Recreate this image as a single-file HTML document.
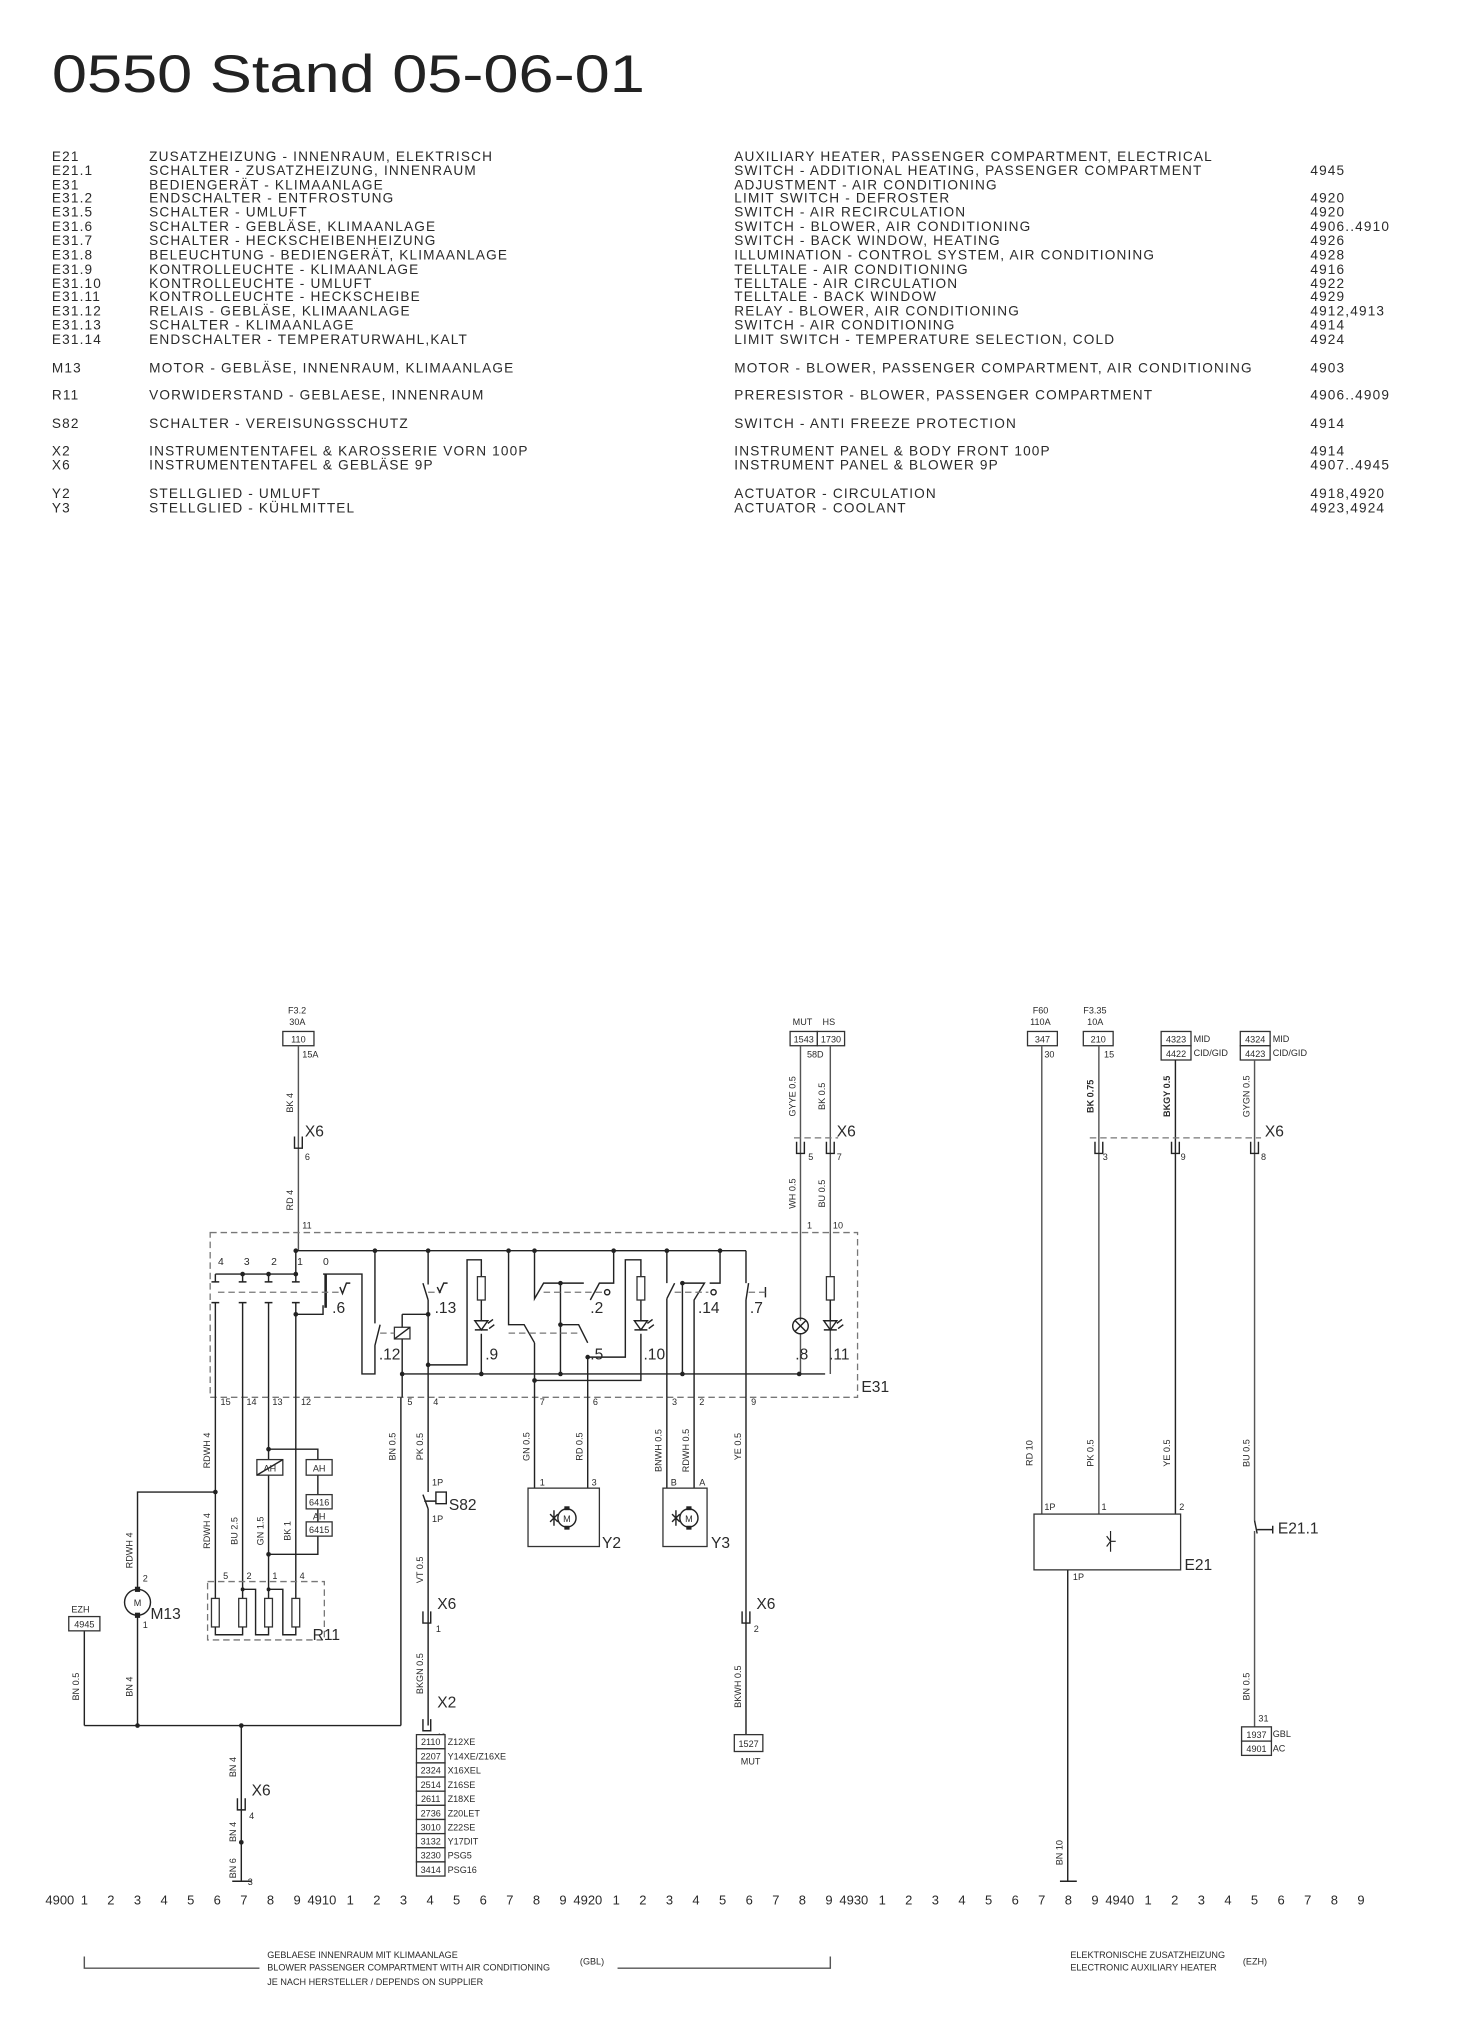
<!DOCTYPE html>
<html><head><meta charset="utf-8"><style>
html,body{margin:0;padding:0;background:#fff;}
svg{display:block}
text{font-family:"Liberation Sans",sans-serif;fill:#2a2a2a;}
.l{font-size:10.5px;letter-spacing:0.9px;}
.s{font-size:7px;}
.m{font-size:12px;}
.w{stroke:#555;stroke-width:1.1;fill:none;}
.k{stroke:#222;stroke-width:1.1;fill:none;}
.d{stroke:#777;stroke-width:1;fill:none;stroke-dasharray:5,3;}
.dot{fill:#222;}
.bx{stroke:#333;stroke-width:1;fill:#fff;}
</style></head><body>
<svg width="1479" height="2024" viewBox="0 0 1140 1560" xmlns="http://www.w3.org/2000/svg">
<text x="40" y="71" font-size="41" textLength="457" lengthAdjust="spacingAndGlyphs" style="fill:#222">0550 Stand 05-06-01</text>

<g class="l">
<text x="40" y="124">E21</text><text x="115" y="124">ZUSATZHEIZUNG - INNENRAUM, ELEKTRISCH</text><text x="566" y="124">AUXILIARY HEATER, PASSENGER COMPARTMENT, ELECTRICAL</text>
<text x="40" y="135">E21.1</text><text x="115" y="135">SCHALTER - ZUSATZHEIZUNG, INNENRAUM</text><text x="566" y="135">SWITCH - ADDITIONAL HEATING, PASSENGER COMPARTMENT</text><text x="1010" y="135">4945</text>
<text x="40" y="146">E31</text><text x="115" y="146">BEDIENGERÄT - KLIMAANLAGE</text><text x="566" y="146">ADJUSTMENT - AIR CONDITIONING</text>
<text x="40" y="156">E31.2</text><text x="115" y="156">ENDSCHALTER - ENTFROSTUNG</text><text x="566" y="156">LIMIT SWITCH - DEFROSTER</text><text x="1010" y="156">4920</text>
<text x="40" y="167">E31.5</text><text x="115" y="167">SCHALTER - UMLUFT</text><text x="566" y="167">SWITCH - AIR RECIRCULATION</text><text x="1010" y="167">4920</text>
<text x="40" y="178">E31.6</text><text x="115" y="178">SCHALTER - GEBLÄSE, KLIMAANLAGE</text><text x="566" y="178">SWITCH - BLOWER, AIR CONDITIONING</text><text x="1010" y="178">4906..4910</text>
<text x="40" y="189">E31.7</text><text x="115" y="189">SCHALTER - HECKSCHEIBENHEIZUNG</text><text x="566" y="189">SWITCH - BACK WINDOW, HEATING</text><text x="1010" y="189">4926</text>
<text x="40" y="200">E31.8</text><text x="115" y="200">BELEUCHTUNG - BEDIENGERÄT, KLIMAANLAGE</text><text x="566" y="200">ILLUMINATION - CONTROL SYSTEM, AIR CONDITIONING</text><text x="1010" y="200">4928</text>
<text x="40" y="211">E31.9</text><text x="115" y="211">KONTROLLEUCHTE - KLIMAANLAGE</text><text x="566" y="211">TELLTALE - AIR CONDITIONING</text><text x="1010" y="211">4916</text>
<text x="40" y="222">E31.10</text><text x="115" y="222">KONTROLLEUCHTE - UMLUFT</text><text x="566" y="222">TELLTALE - AIR CIRCULATION</text><text x="1010" y="222">4922</text>
<text x="40" y="232">E31.11</text><text x="115" y="232">KONTROLLEUCHTE - HECKSCHEIBE</text><text x="566" y="232">TELLTALE - BACK WINDOW</text><text x="1010" y="232">4929</text>
<text x="40" y="243">E31.12</text><text x="115" y="243">RELAIS - GEBLÄSE, KLIMAANLAGE</text><text x="566" y="243">RELAY - BLOWER, AIR CONDITIONING</text><text x="1010" y="243">4912,4913</text>
<text x="40" y="254">E31.13</text><text x="115" y="254">SCHALTER - KLIMAANLAGE</text><text x="566" y="254">SWITCH - AIR CONDITIONING</text><text x="1010" y="254">4914</text>
<text x="40" y="265">E31.14</text><text x="115" y="265">ENDSCHALTER - TEMPERATURWAHL,KALT</text><text x="566" y="265">LIMIT SWITCH - TEMPERATURE SELECTION, COLD</text><text x="1010" y="265">4924</text>
<text x="40" y="287">M13</text><text x="115" y="287">MOTOR - GEBLÄSE, INNENRAUM, KLIMAANLAGE</text><text x="566" y="287">MOTOR - BLOWER, PASSENGER COMPARTMENT, AIR CONDITIONING</text><text x="1010" y="287">4903</text>
<text x="40" y="308">R11</text><text x="115" y="308">VORWIDERSTAND - GEBLAESE, INNENRAUM</text><text x="566" y="308">PRERESISTOR - BLOWER, PASSENGER COMPARTMENT</text><text x="1010" y="308">4906..4909</text>
<text x="40" y="330">S82</text><text x="115" y="330">SCHALTER - VEREISUNGSSCHUTZ</text><text x="566" y="330">SWITCH - ANTI FREEZE PROTECTION</text><text x="1010" y="330">4914</text>
<text x="40" y="351">X2</text><text x="115" y="351">INSTRUMENTENTAFEL &amp; KAROSSERIE VORN 100P</text><text x="566" y="351">INSTRUMENT PANEL &amp; BODY FRONT 100P</text><text x="1010" y="351">4914</text>
<text x="40" y="362">X6</text><text x="115" y="362">INSTRUMENTENTAFEL &amp; GEBLÄSE 9P</text><text x="566" y="362">INSTRUMENT PANEL &amp; BLOWER 9P</text><text x="1010" y="362">4907..4945</text>
<text x="40" y="384">Y2</text><text x="115" y="384">STELLGLIED - UMLUFT</text><text x="566" y="384">ACTUATOR - CIRCULATION</text><text x="1010" y="384">4918,4920</text>
<text x="40" y="395">Y3</text><text x="115" y="395">STELLGLIED - KÜHLMITTEL</text><text x="566" y="395">ACTUATOR - COOLANT</text><text x="1010" y="395">4923,4924</text>
</g>

<!-- ===== Left diagram top ===== -->
<g class="s">
<text x="222" y="781">F3.2</text><text x="223" y="790">30A</text>
<text x="233" y="815">15A</text>
<text x="611" y="790">MUT</text><text x="634" y="790">HS</text>
<text x="622" y="815">58D</text>
<text x="233" y="947">11</text><text x="622" y="947">1</text><text x="642" y="947">10</text>
<text x="235" y="894">6</text><text x="623" y="894">5</text><text x="645" y="894">7</text>
</g>
<rect class="bx" x="218" y="795" width="24" height="11"/><text class="s" x="230" y="803.5" text-anchor="middle">110</text>
<rect class="bx" x="609" y="795" width="21" height="11"/><rect class="bx" x="630" y="795" width="21" height="11"/>
<text class="s" x="619.5" y="803.5" text-anchor="middle">1543</text><text class="s" x="640.5" y="803.5" text-anchor="middle">1730</text>
<path class="w" d="M230 806V964 M617 806V1018 M617 1028V1059 M640 806V984 M640 1002V1059"/>
<g class="s">
<text transform="translate(226,850) rotate(-90)" text-anchor="middle">BK  4</text>
<text transform="translate(226,925) rotate(-90)" text-anchor="middle">RD  4</text>
<text transform="translate(613,845) rotate(-90)" text-anchor="middle">GYYE  0.5</text>
<text transform="translate(636,845) rotate(-90)" text-anchor="middle">BK  0.5</text>
<text transform="translate(613,920) rotate(-90)" text-anchor="middle">WH  0.5</text>
<text transform="translate(636,920) rotate(-90)" text-anchor="middle">BU  0.5</text>
</g>
<!-- X6 connectors -->
<path class="k" d="M227 876v9h6v-9 M614 880v9h6v-9 M637 880v9h6v-9"/>
<path class="d" d="M612 877H646"/>
<text class="m" x="235" y="876">X6</text><text class="m" x="645" y="876">X6</text>

<!-- E31 box -->
<rect class="d" x="162" y="950" width="499" height="127"/>
<text class="m" x="664" y="1073">E31</text>

<!-- E31 internals -->
<path class="k" d="M228 964H575"/>
<g class="dot">
<circle cx="228" cy="964" r="1.8"/><circle cx="289" cy="964" r="1.8"/><circle cx="330" cy="964" r="1.8"/><circle cx="392" cy="964" r="1.8"/><circle cx="412" cy="964" r="1.8"/><circle cx="473" cy="964" r="1.8"/><circle cx="514" cy="964" r="1.8"/><circle cx="555" cy="964" r="1.8"/>
<circle cx="187" cy="982" r="1.8"/><circle cx="207" cy="982" r="1.8"/><circle cx="228" cy="982" r="1.8"/><circle cx="228" cy="1013" r="1.8"/>
<circle cx="330" cy="1013" r="1.8"/><circle cx="330" cy="1052" r="1.8"/><circle cx="310" cy="1059" r="1.8"/><circle cx="371" cy="1059" r="1.8"/><circle cx="432" cy="1059" r="1.8"/><circle cx="526" cy="1059" r="1.8"/><circle cx="616" cy="1059" r="1.8"/>
<circle cx="432" cy="989" r="1.8"/><circle cx="432" cy="1021" r="1.8"/><circle cx="453" cy="1046" r="1.8"/><circle cx="412" cy="1064" r="1.8"/><circle cx="526" cy="989" r="1.8"/>
</g>
<g class="s" style="font-size:8px">
<text x="168" y="975">4</text><text x="188" y="975">3</text><text x="209" y="975">2</text><text x="229" y="975">1</text><text x="249" y="975">0</text>
</g>
<path class="k" d="M228 964V982 M166 982H228 M166 982v6 M187 982v6 M207 982v6 M228 982v6 M163 988h6 M184 988h6 M204 988h6 M225 988h6
M163 1004h6 M184 1004h6 M204 1004h6 M225 1004h6 M166 1004V1077 M187 1004V1077 M207 1004V1077 M228 1004V1077
M228 1013H249V1006 M249 982H279V1059H289V1037 M289 964V1020 M289 1037L293 1021"/>
<path class="k" d="M251 982V1008" style="stroke-width:2"/>
<path class="d" d="M168 996H262"/>
<path class="k" d="M262 992l2 5l3-8h3"/>
<text class="m" x="256" y="1012">.6</text>
<!-- relay .12 -->
<rect class="bx" x="304" y="1023" width="12" height="9"/>
<path class="k" d="M304 1032L316 1023"/>
<path class="d" d="M293 1027.5H304"/>
<path class="k" d="M310 1013V1023 M310 1032V1077 M310 1013H330 M310 1059H636"/>
<text class="m" x="292" y="1048">.12</text>
<!-- .13 -->
<path class="k" d="M330 964V990 M330 1002V1077 M330 1002L326 989 M330 1052H360V971H371V984 M371 1002V1018 M371 1028V1059"/>
<path class="d" d="M330 996H340"/><path class="k" d="M337 992l2 4l3-7h3"/>
<rect class="bx" x="368" y="984" width="6" height="18"/>
<path class="k" d="M366 1018h10l-5 7z M366 1025h10" style="fill:none"/>
<path class="k" d="M376 1020l4-3 M377 1024l4-3"/>
<text class="m" x="335" y="1012">.13</text><text class="m" x="374" y="1048">.9</text>
<!-- .5 / .2 -->
<path class="k" d="M392 964V1021H404L412 1035 M412 964V1001L419 989H450 M432 989V1059 M432 1021H446L453 1035 M453 1046V1077 M412 1035V1077
M473 964V989H462L455 1002 M453 1046H482V971H494V984 M494 1002V1018 M494 1028V1064H412"/>
<path class="d" d="M392 1027.5H448 M419 996H466"/>
<circle cx="468" cy="996" r="2" class="k"/>
<rect class="bx" x="491" y="984" width="6" height="18"/>
<path class="k" d="M489 1018h10l-5 7z M489 1025h10 M499 1020l4-3 M500 1024l4-3"/>
<text class="m" x="455" y="1012">.2</text><text class="m" x="455" y="1048">.5</text><text class="m" x="496" y="1048">.10</text>
<!-- .14 .7 -->
<path class="k" d="M514 964V989 M514 1001L520 989 M514 1001V1077 M526 989V1059 M526 989H543L535 1002V1077 M555 964V989H547
M575 964V989 M575 1002L577 989 M575 1002V1077 M590 992v8"/>
<path class="d" d="M520 996H546 M577 996H590"/>
<circle cx="550" cy="996" r="2" class="k"/>
<text class="m" x="538" y="1012">.14</text><text class="m" x="578" y="1012">.7</text>
<!-- .8 lamp / .11 -->
<circle cx="617" cy="1022" r="6" class="k"/>
<path class="k" d="M613 1018l8 8 M621 1018l-8 8"/>
<rect class="bx" x="637" y="984" width="6" height="18"/>
<path class="k" d="M640 1002V1018 M635 1018h10l-5 7z M635 1025h10 M645 1020l4-3 M646 1024l4-3"/>
<text class="m" x="613" y="1048">.8</text><text class="m" x="639" y="1048">.11</text>

<g class="s">
<text x="170" y="1083">15</text><text x="190" y="1083">14</text><text x="210" y="1083">13</text><text x="232" y="1083">12</text>
<text x="314" y="1083">5</text><text x="334" y="1083">4</text><text x="416" y="1083">7</text><text x="457" y="1083">6</text>
<text x="518" y="1083">3</text><text x="539" y="1083">2</text><text x="579" y="1083">9</text>
</g>

<!-- ===== Lower left ===== -->
<path class="k" d="M166 1077V1232 M187 1077V1232 M207 1077V1125 M207 1137V1232 M228 1077V1232
M207 1117H245V1125 M245 1137V1152 M245 1163V1173 M245 1184V1198H207
M166 1150H106V1225 M106 1245V1330 M65 1257V1330 M65 1330H309 M309 1077V1330 M186 1330V1450 M179 1450H194"/>
<g class="dot"><circle cx="166" cy="1150" r="1.8"/><circle cx="207" cy="1117" r="1.8"/><circle cx="207" cy="1198" r="1.8"/><circle cx="106" cy="1330" r="1.8"/><circle cx="186" cy="1330" r="1.8"/><circle cx="186" cy="1420" r="1.8"/><circle cx="187" cy="1225" r="1.5"/><circle cx="207" cy="1225" r="1.5"/></g>
<rect class="bx" x="198" y="1125" width="20" height="12"/><path class="k" d="M198 1137L218 1125"/>
<text class="s" x="208" y="1134" text-anchor="middle">AH</text>
<rect class="bx" x="236" y="1125" width="20" height="12"/><text class="s" x="246" y="1134" text-anchor="middle">AH</text>
<rect class="bx" x="236" y="1152" width="20" height="11"/><text class="s" x="246" y="1160.5" text-anchor="middle">6416</text>
<text class="s" x="246" y="1171" text-anchor="middle">AH</text>
<rect class="bx" x="236" y="1173" width="20" height="11"/><text class="s" x="246" y="1181.5" text-anchor="middle">6415</text>
<g class="s">
<text transform="translate(162,1118) rotate(-90)" text-anchor="middle">RDWH  4</text>
<text transform="translate(162,1180) rotate(-90)" text-anchor="middle">RDWH  4</text>
<text transform="translate(183,1180) rotate(-90)" text-anchor="middle">BU  2.5</text>
<text transform="translate(203,1180) rotate(-90)" text-anchor="middle">GN  1.5</text>
<text transform="translate(224,1180) rotate(-90)" text-anchor="middle">BK  1</text>
<text transform="translate(102,1195) rotate(-90)" text-anchor="middle">RDWH  4</text>
<text transform="translate(61,1300) rotate(-90)" text-anchor="middle">BN  0.5</text>
<text transform="translate(102,1300) rotate(-90)" text-anchor="middle">BN  4</text>
<text transform="translate(305,1115) rotate(-90)" text-anchor="middle">BN  0.5</text>
<text transform="translate(182,1362) rotate(-90)" text-anchor="middle">BN  4</text>
<text transform="translate(182,1412) rotate(-90)" text-anchor="middle">BN  4</text>
<text transform="translate(182,1440) rotate(-90)" text-anchor="middle">BN  6</text>
<text x="172" y="1217">5</text><text x="190" y="1217">2</text><text x="210" y="1217">1</text><text x="231" y="1217">4</text>
<text x="110" y="1219">2</text><text x="110" y="1255">1</text>
<text x="55" y="1243">EZH</text>
<text x="192" y="1402">4</text><text x="191" y="1453">3</text>
</g>
<rect class="d" x="160" y="1219" width="90" height="45"/>
<rect class="bx" x="163" y="1232" width="6" height="22"/><rect class="bx" x="184" y="1232" width="6" height="22"/><rect class="bx" x="204" y="1232" width="6" height="22"/><rect class="bx" x="225" y="1232" width="6" height="22"/>
<path class="k" d="M166 1254V1260H187V1254 M187 1225H197V1260H207V1254 M207 1225H218V1260H228V1254"/>
<text class="m" x="241" y="1264">R11</text>
<circle cx="106" cy="1235" r="10" class="k"/><rect x="104" y="1223" width="4" height="4" class="dot"/><rect x="104" y="1243" width="4" height="4" class="dot"/>
<text class="s" x="106" y="1238" text-anchor="middle">M</text>
<text class="m" x="116" y="1248">M13</text>
<rect class="bx" x="53" y="1246" width="24" height="11"/><text class="s" x="65" y="1254.5" text-anchor="middle">4945</text>
<path class="k" d="M183 1386v9h6v-9"/><text class="m" x="194" y="1384">X6</text>

<!-- S82 / X2 wire -->
<path class="k" d="M330 1077V1150 M330 1163L326 1152 M330 1163V1330 M326 1242v9h6v-9 M326 1325v9h6v-9 M327 1157h9 M336 1150h8v9h-8z"/>
<g class="s">
<text x="333" y="1145">1P</text><text x="333" y="1173">1P</text><text x="336" y="1258">1</text><text x="336" y="1341">40</text>
<text transform="translate(326,1115) rotate(-90)" text-anchor="middle">PK  0.5</text>
<text transform="translate(326,1210) rotate(-90)" text-anchor="middle">VT  0.5</text>
<text transform="translate(326,1290) rotate(-90)" text-anchor="middle">BKGN  0.5</text>
</g>
<text class="m" x="346" y="1164">S82</text><text class="m" x="337" y="1240">X6</text><text class="m" x="337" y="1316">X2</text>
<g class="s">
<rect class="bx" x="321" y="1337" width="22" height="10.9"/><text x="332" y="1345" text-anchor="middle">2110</text><text x="345" y="1345">Z12XE</text>
<rect class="bx" x="321" y="1347.9" width="22" height="10.9"/><text x="332" y="1356" text-anchor="middle">2207</text><text x="345" y="1356">Y14XE/Z16XE</text>
<rect class="bx" x="321" y="1358.8" width="22" height="10.9"/><text x="332" y="1367" text-anchor="middle">2324</text><text x="345" y="1367">X16XEL</text>
<rect class="bx" x="321" y="1369.7" width="22" height="10.9"/><text x="332" y="1378" text-anchor="middle">2514</text><text x="345" y="1378">Z16SE</text>
<rect class="bx" x="321" y="1380.6" width="22" height="10.9"/><text x="332" y="1389" text-anchor="middle">2611</text><text x="345" y="1389">Z18XE</text>
<rect class="bx" x="321" y="1391.5" width="22" height="10.9"/><text x="332" y="1400" text-anchor="middle">2736</text><text x="345" y="1400">Z20LET</text>
<rect class="bx" x="321" y="1402.4" width="22" height="10.9"/><text x="332" y="1411" text-anchor="middle">3010</text><text x="345" y="1411">Z22SE</text>
<rect class="bx" x="321" y="1413.3" width="22" height="10.9"/><text x="332" y="1421.5" text-anchor="middle">3132</text><text x="345" y="1421.5">Y17DIT</text>
<rect class="bx" x="321" y="1424.2" width="22" height="10.9"/><text x="332" y="1432.5" text-anchor="middle">3230</text><text x="345" y="1432.5">PSG5</text>
<rect class="bx" x="321" y="1435.1" width="22" height="10.9"/><text x="332" y="1443.5" text-anchor="middle">3414</text><text x="345" y="1443.5">PSG16</text>
</g>

<!-- Y2 / Y3 / YE -->
<path class="k" d="M412 1077V1147 M453 1077V1147 M514 1077V1147 M535 1077V1147 M575 1077V1337 M572 1242v9h6v-9"/>
<rect class="bx" x="407" y="1147" width="55" height="45"/>
<rect class="bx" x="511" y="1147" width="34" height="45"/>
<circle cx="437" cy="1170" r="7" class="k"/><text class="s" x="437" y="1173" text-anchor="middle">M</text>
<path class="k" d="M427 1164v12 M424 1167l6 6 M430 1167l-6 6"/>
<rect x="435" y="1161" width="4" height="3" class="dot"/><rect x="435" y="1176" width="4" height="3" class="dot"/>
<circle cx="531" cy="1170" r="7" class="k"/><text class="s" x="531" y="1173" text-anchor="middle">M</text>
<path class="k" d="M521 1164v12 M518 1167l6 6 M524 1167l-6 6"/>
<rect x="529" y="1161" width="4" height="3" class="dot"/><rect x="529" y="1176" width="4" height="3" class="dot"/>
<text class="m" x="464" y="1193">Y2</text><text class="m" x="548" y="1193">Y3</text>
<text class="m" x="583" y="1240">X6</text>
<g class="s">
<text x="416" y="1145">1</text><text x="456" y="1145">3</text><text x="517" y="1145">B</text><text x="539" y="1145">A</text>
<text x="581" y="1258">2</text>
<text transform="translate(408,1115) rotate(-90)" text-anchor="middle">GN  0.5</text>
<text transform="translate(449,1115) rotate(-90)" text-anchor="middle">RD  0.5</text>
<text transform="translate(510,1118) rotate(-90)" text-anchor="middle">BNWH  0.5</text>
<text transform="translate(531,1118) rotate(-90)" text-anchor="middle">RDWH  0.5</text>
<text transform="translate(571,1115) rotate(-90)" text-anchor="middle">YE  0.5</text>
<text transform="translate(571,1300) rotate(-90)" text-anchor="middle">BKWH  0.5</text>
<text x="571" y="1360">MUT</text>
</g>
<rect class="bx" x="566" y="1337" width="22" height="13"/><text class="s" x="577" y="1346.5" text-anchor="middle">1527</text>

<!-- ===== Right diagram ===== -->
<g class="s">
<text x="796" y="781">F60</text><text x="794" y="790">110A</text>
<text x="835" y="781">F3.35</text><text x="838" y="790">10A</text>
<text x="805" y="815">30</text><text x="851" y="815">15</text>
<text x="920" y="803">MID</text><text x="920" y="814">CID/GID</text>
<text x="981" y="803">MID</text><text x="981" y="814">CID/GID</text>
<text x="850" y="894">3</text><text x="910" y="894">9</text><text x="972" y="894">8</text>
<text x="805" y="1164">1P</text><text x="849" y="1164">1</text><text x="909" y="1164">2</text><text x="827" y="1218">1P</text>
<text x="970" y="1327">31</text><text x="981" y="1339">GBL</text><text x="981" y="1350">AC</text>
<text transform="translate(843,845) rotate(-90)" text-anchor="middle" style="font-weight:bold">BK  0.75</text>
<text transform="translate(902,845) rotate(-90)" text-anchor="middle" style="font-weight:bold">BKGY  0.5</text>
<text transform="translate(963,845) rotate(-90)" text-anchor="middle">GYGN  0.5</text>
<text transform="translate(796,1120) rotate(-90)" text-anchor="middle">RD  10</text>
<text transform="translate(843,1120) rotate(-90)" text-anchor="middle">PK  0.5</text>
<text transform="translate(902,1120) rotate(-90)" text-anchor="middle">YE  0.5</text>
<text transform="translate(963,1120) rotate(-90)" text-anchor="middle">BU  0.5</text>
<text transform="translate(963,1300) rotate(-90)" text-anchor="middle">BN  0.5</text>
<text transform="translate(819,1428) rotate(-90)" text-anchor="middle">BN  10</text>
</g>
<rect class="bx" x="792" y="795" width="23" height="11"/><text class="s" x="803.5" y="803.5" text-anchor="middle">347</text>
<rect class="bx" x="835" y="795" width="23" height="11"/><text class="s" x="846.5" y="803.5" text-anchor="middle">210</text>
<rect class="bx" x="895" y="795" width="23" height="11"/><text class="s" x="906.5" y="803.5" text-anchor="middle">4323</text>
<rect class="bx" x="895" y="806" width="23" height="11"/><text class="s" x="906.5" y="814.5" text-anchor="middle">4422</text>
<rect class="bx" x="956" y="795" width="23" height="11"/><text class="s" x="967.5" y="803.5" text-anchor="middle">4324</text>
<rect class="bx" x="956" y="806" width="23" height="11"/><text class="s" x="967.5" y="814.5" text-anchor="middle">4423</text>
<path class="w" d="M803 806V1167 M847 806V1167 M967 817V1172 M967 1180V1331"/>
<path class="k" d="M906 817V1167 M844 880v9h6v-9 M903 880v9h6v-9 M964 880v9h6v-9 M823 1210V1450 M817 1450H830"/>
<path class="d" d="M840 877H972"/>
<text class="m" x="975" y="876">X6</text>
<rect class="bx" x="797" y="1167" width="113" height="43"/>
<path class="k" d="M853 1184l3 4h4 M856 1188l-3 4 M856 1180v16" style="stroke-width:0.9"/>
<text class="m" x="913" y="1210">E21</text>
<path class="k" d="M967 1172L969 1182 M969 1179H981 M981 1176v6"/>
<text class="m" x="985" y="1182">E21.1</text>
<rect class="bx" x="957" y="1331" width="23" height="11"/><text class="s" x="968.5" y="1339.5" text-anchor="middle">1937</text>
<rect class="bx" x="957" y="1342" width="23" height="11"/><text class="s" x="968.5" y="1350.5" text-anchor="middle">4901</text>

<!-- bottom ruler -->
<g style="font-size:10px">
<text x="35" y="1468">4900</text>
<text x="237" y="1468">4910</text>
<text x="442" y="1468">4920</text>
<text x="647" y="1468">4930</text>
<text x="852" y="1468">4940</text>
</g>
<g style="font-size:10px" text-anchor="middle" id="nums">
<text x="65" y="1468">1</text><text x="85.5" y="1468">2</text><text x="106" y="1468">3</text><text x="126.5" y="1468">4</text><text x="147" y="1468">5</text><text x="167.5" y="1468">6</text><text x="188" y="1468">7</text><text x="208.5" y="1468">8</text><text x="229" y="1468">9</text>
<text x="270" y="1468">1</text><text x="290.5" y="1468">2</text><text x="311" y="1468">3</text><text x="331.5" y="1468">4</text><text x="352" y="1468">5</text><text x="372.5" y="1468">6</text><text x="393" y="1468">7</text><text x="413.5" y="1468">8</text><text x="434" y="1468">9</text>
<text x="475" y="1468">1</text><text x="495.5" y="1468">2</text><text x="516" y="1468">3</text><text x="536.5" y="1468">4</text><text x="557" y="1468">5</text><text x="577.5" y="1468">6</text><text x="598" y="1468">7</text><text x="618.5" y="1468">8</text><text x="639" y="1468">9</text>
<text x="680" y="1468">1</text><text x="700.5" y="1468">2</text><text x="721" y="1468">3</text><text x="741.5" y="1468">4</text><text x="762" y="1468">5</text><text x="782.5" y="1468">6</text><text x="803" y="1468">7</text><text x="823.5" y="1468">8</text><text x="844" y="1468">9</text>
<text x="885" y="1468">1</text><text x="905.5" y="1468">2</text><text x="926" y="1468">3</text><text x="946.5" y="1468">4</text><text x="967" y="1468">5</text><text x="987.5" y="1468">6</text><text x="1008" y="1468">7</text><text x="1028.5" y="1468">8</text><text x="1049" y="1468">9</text>
</g>

<!-- footer -->
<path class="w" d="M65 1508V1517H200 M476 1517H640V1508"/>
<g style="font-size:7px">
<text x="206" y="1509">GEBLAESE INNENRAUM MIT KLIMAANLAGE</text>
<text x="206" y="1519">BLOWER PASSENGER COMPARTMENT WITH AIR CONDITIONING</text>
<text x="447" y="1514">(GBL)</text>
<text x="206" y="1530">JE NACH HERSTELLER / DEPENDS ON SUPPLIER</text>
<text x="825" y="1509">ELEKTRONISCHE ZUSATZHEIZUNG</text>
<text x="825" y="1519">ELECTRONIC AUXILIARY HEATER</text>
<text x="958" y="1514">(EZH)</text>
</g>
</svg>
</body></html>
